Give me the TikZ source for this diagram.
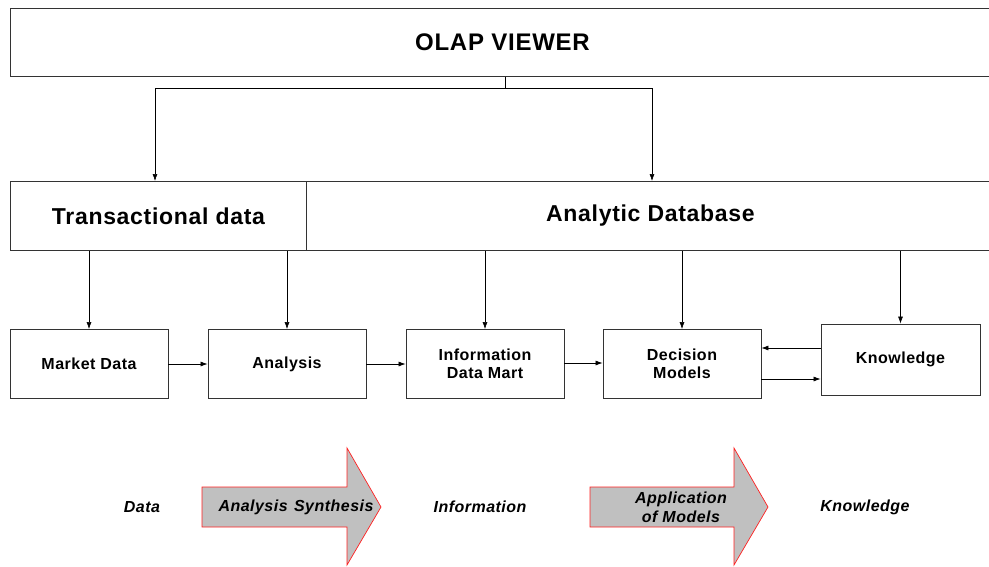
\documentclass[tikz,border=0pt]{standalone}
\usepackage{fontspec}
\setmainfont{Liberation Sans}[LetterSpace=3]
\usetikzlibrary{arrows.meta}
\definecolor{boxline}{HTML}{333333}
\definecolor{flowfill}{HTML}{C0C0C0}
\definecolor{flowline}{HTML}{FF2020}
\tikzset{
  bigbox/.style={draw=boxline, line width=0.9pt, anchor=north west, inner sep=0pt,
    font=\fontsize{23}{27}\selectfont\bfseries},
  stagebox/.style={draw=boxline, line width=0.9pt, minimum width=158pt, minimum height=69pt,
    inner sep=0pt, align=center, font=\fontsize{16}{18.5}\selectfont\bfseries},
  link/.style={draw=black, line width=0.6pt},
  arr/.style={link, -{Latex[length=7pt,width=5pt]}},
  phase/.style={font=\fontsize{16}{19}\selectfont\bfseries\itshape, align=center, inner sep=0pt},
  flow/.style={draw=flowline, line width=0.7pt, fill=flowfill, line join=miter}
}
\begin{document}
\begin{tikzpicture}[x=1pt, y=-1pt]
\useasboundingbox (0,0) rectangle (989,566);

% top viewer and the two data layers
\node[bigbox, minimum width=984pt, minimum height=68pt, font=\fontsize{24}{28}\selectfont\bfseries] (olap) at (10,8) {OLAP VIEWER};
\node[bigbox, minimum width=296pt, minimum height=69pt] (trans) at (10,181) {Transactional data};
\node[bigbox, minimum width=688pt, minimum height=69pt] (adb) at (306,181) {Analytic Database};

% processing stages
\node[stagebox] (market) at (89,364) {Market Data};
\node[stagebox] (analysis) at (287,364) {Analysis};
\node[stagebox] (info) at (485,364) {Information\\Data Mart};
\node[stagebox] (decision) at (682,364) {Decision\\Models};
\node[stagebox, minimum width=159pt, minimum height=71pt] (know) at (900.5,359.5) {Knowledge};

% viewer feeds both layers
\coordinate (split) at (505,88);
\coordinate (splitL) at (155,88);
\coordinate (splitR) at (652,88);
\draw[link] (olap.south -| split) -- (split);
\draw[link] (splitL) -- (splitR);
\draw[arr] (splitL) -- (splitL |- trans.north);
\draw[arr] (splitR) -- (splitR |- adb.north);

% layers feed the stages
\draw[arr] (trans.south -| market.north) -- (market.north);
\draw[arr] (trans.south -| analysis.north) -- (analysis.north);
\draw[arr] (adb.south -| info.north) -- (info.north);
\draw[arr] (adb.south -| decision.north) -- (decision.north);
\draw[arr] (adb.south -| know.north) -- (know.north);

% stage chain
\draw[arr] (market.east) -- (analysis.west);
\draw[arr] (analysis.east) -- (info.west);
\draw[arr] (info.east |- 0,363) -- (decision.west |- 0,363);
\draw[arr] (know.west |- 0,348) -- (decision.east |- 0,348);
\draw[arr] (decision.east |- 0,379) -- (know.west |- 0,379);

% block arrows between phases
\draw[flow] (202,487) -- (347,487) -- (347,448) -- (381,507) -- (347,565) -- (347,527) -- (202,527) -- cycle;
\draw[flow] (590,487) -- (734,487) -- (734,448) -- (768,507) -- (734,565) -- (734,527) -- (590,527) -- cycle;

% phase labels
\node[phase] (pdata) at (142,507) {Data};
\node[phase] (psyn) at (296,507) {Analysis\hspace{0.4em}Synthesis};
\node[phase] (pinfo) at (480,507) {Information};
\node[phase] (papp) at (681,507) {Application\\of Models};
\node[phase] (pknow) at (865,507) {Knowledge};
\end{tikzpicture}
\end{document}
